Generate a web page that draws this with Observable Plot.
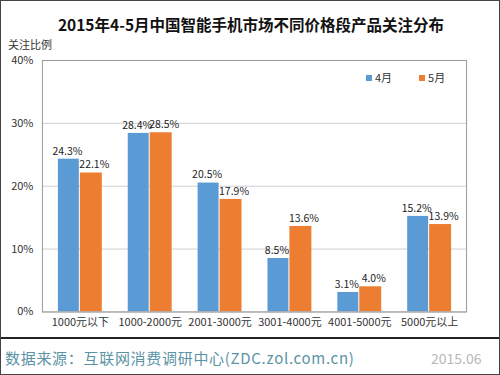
<!DOCTYPE html>
<html><head><meta charset="utf-8">
<script src="https://cdn.jsdelivr.net/npm/d3@7"></script>
<script src="https://cdn.jsdelivr.net/npm/@observablehq/plot@0.6"></script>
<style>
body{margin:0;background:#fff;font-family:"Noto Sans CJK SC","Noto Sans",sans-serif;}
#wrap{position:relative;width:500px;height:375px;box-sizing:border-box;border:1px solid #444;overflow:hidden;background:#fff;}
.abs{position:absolute;white-space:nowrap;line-height:1;}
#title{left:0;width:500px;top:16px;text-align:center;font-size:15.5px;font-weight:bold;color:#111;}
#ylab{left:7px;top:38px;font-size:11px;color:#333;}
#chart{position:absolute;left:-1px;top:39px;}
#legend{left:365px;top:71px;font-size:11px;color:#333;}
#legend span.sw{display:inline-block;width:6px;height:6px;margin-right:3px;vertical-align:1px;}
#rule{left:0;top:336px;width:500px;height:2px;background:#222;}
#source{left:4px;top:349px;font-size:15px;color:#5b93a6;letter-spacing:0.7px;}
#date{left:430px;top:350px;font-size:14px;color:#b8b8b8;}
</style></head>
<body>
<div id="wrap">
  <div id="title" class="abs">2015年4-5月中国智能手机市场不同价格段产品关注分布</div>
  <div id="ylab" class="abs">关注比例</div>
  <div id="chart"></div>
  <div id="legend" class="abs"></div>
  <div id="rule" class="abs"></div>
  <div id="source" class="abs">数据来源：互联网消费调研中心(ZDC.zol.com.cn)</div>
  <div id="date" class="abs">2015.06</div>
</div>
<script>
const categories = ["1000元以下","1000-2000元","2001-3000元","3001-4000元","4001-5000元","5000元以上"];
const seriesNames = ["4月","5月"];
const april = [24.3, 28.4, 20.5, 8.5, 3.1, 15.2];
const may = [22.1, 28.5, 17.9, 13.6, 4.0, 13.9];
const yTicks = [0, 10, 20, 30, 40];
const colors = ["#5b9bd5", "#ed7d31"];

const aprData = categories.map((c, i) => ({cat: c, v: april[i]}));
const mayData = categories.map((c, i) => ({cat: c, v: may[i]}));
const fmt = d => d.v.toFixed(1) + "%";

const chart = Plot.plot({
  width: 500,
  height: 300,
  marginTop: 20,
  marginLeft: 42,
  marginRight: 33,
  marginBottom: 28,
  style: {fontFamily: "'Noto Sans CJK SC','Noto Sans',sans-serif", fontSize: "11px", color: "#333", background: "transparent"},
  x: {domain: categories, padding: 0, label: null, tickSize: 0, tickPadding: 6},
  y: {domain: [0, 40], ticks: yTicks, tickFormat: d => d + "%", label: null, tickSize: 0, tickPadding: 9},
  marks: [
    Plot.ruleY(yTicks.filter(d => d > 0 && d < 40), {stroke: "#cfcfcf"}),
    Plot.barY(aprData, {x: "cat", y: "v", fill: colors[0], insetLeft: 13, insetRight: 36}),
    Plot.barY(mayData, {x: "cat", y: "v", fill: colors[1], insetLeft: 35, insetRight: 13}),
    Plot.text(aprData, {x: "cat", y: "v", text: fmt, dx: -13, dy: -8, fill: "#222", fontSize: 10.5}),
    Plot.text(mayData, {x: "cat", y: "v", text: fmt, dx: 14, dy: -8, fill: "#222", fontSize: 10.5}),
    Plot.frame({stroke: "#999"}),
    Plot.ruleY([0], {stroke: "#aaa"})
  ]
});
document.getElementById("chart").appendChild(chart);

const leg = document.getElementById("legend");
seriesNames.forEach((n, i) => {
  const s = document.createElement("span");
  s.style.marginRight = "27px";
  s.innerHTML = `<span class="sw" style="background:${colors[i]}"></span>${n}`;
  leg.appendChild(s);
});
</script>
</body></html>
